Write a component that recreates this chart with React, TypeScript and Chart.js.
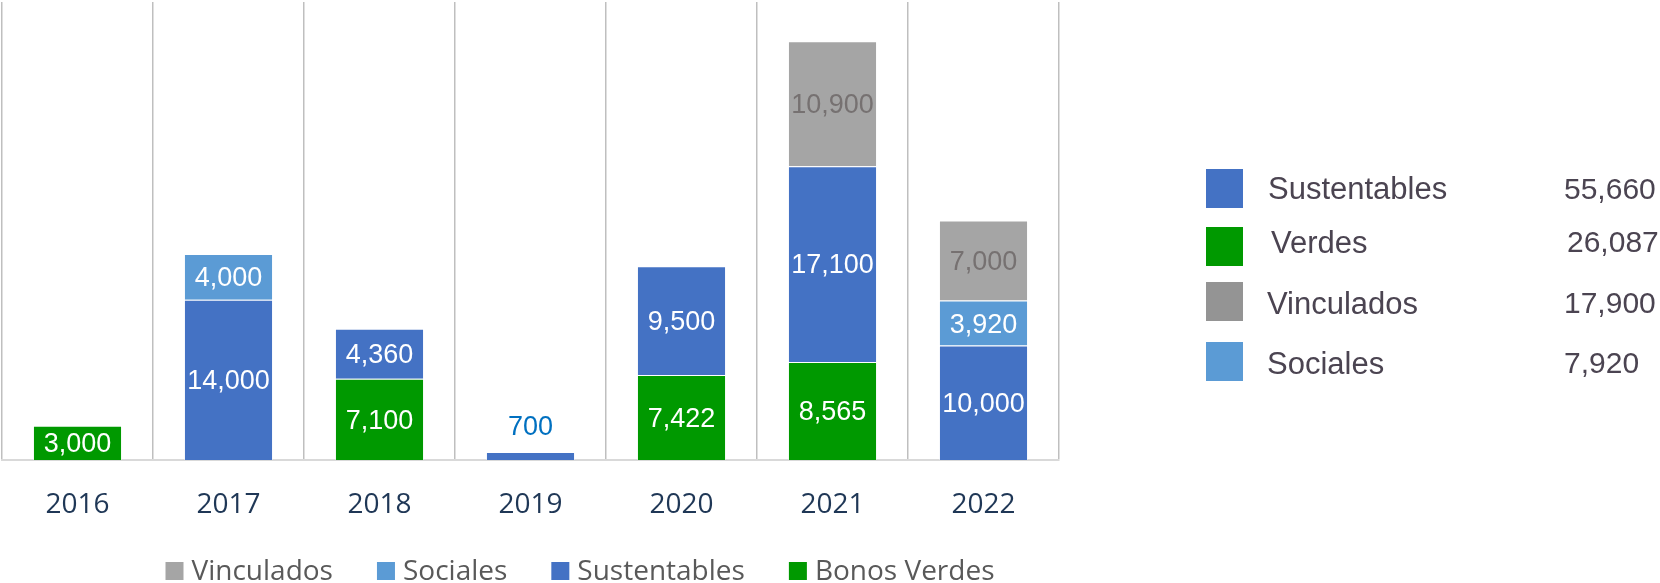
import React, { useEffect, useRef } from "react";
import { Chart, registerables } from "chart.js";

Chart.register(...registerables);

const categories = ["2016", "2017", "2018", "2019", "2020", "2021", "2022"];
const bonosVerdes = [3000, null, 7100, null, 7422, 8565, null];
const sustentables = [null, 14000, 4360, 700, 9500, 17100, 10000];
const sociales = [null, 4000, null, null, null, null, 3920];
const vinculados = [null, null, null, null, null, 10900, 7000];

const bottomLegendLabels = ["Vinculados", "Sociales", "Sustentables", "Bonos Verdes"];
const rightLegendLabels = ["Sustentables", "Verdes", "Vinculados", "Sociales"];

const GREEN = "#009900";
const BLUE = "#4472C4";
const LIGHTBLUE = "#5B9BD5";
const GRAY = "#A5A5A5";

const sum = (a: (number | null)[]) => a.reduce((s: number, v) => s + (v || 0), 0);

const labelPlugin = {
  id: "segLabels",
  afterDatasetsDraw(chart: any) {
    const ctx = chart.ctx;
    ctx.save();
    ctx.font = "27px 'Liberation Sans', Arial, sans-serif";
    ctx.textAlign = "center";
    ctx.textBaseline = "middle";
    chart.data.datasets.forEach((ds: any, i: number) => {
      const meta = chart.getDatasetMeta(i);
      meta.data.forEach((bar: any, j: number) => {
        const v = ds.data[j];
        if (!v) return;
        const { x, y, base } = bar.getProps(["x", "y", "base"], true);
        const h = Math.abs(base - y);
        const txt = v.toLocaleString("en-US");
        if (h < 30) {
          ctx.fillStyle = "#0070C0";
          ctx.fillText(txt, x, y - 24);
        } else {
          ctx.fillStyle = ds.labelColor;
          ctx.fillText(txt, x, (y + base) / 2 + 2);
        }
      });
    });
    ctx.restore();
  },
};

const legendPlugin = {
  id: "customLegends",
  afterDraw(chart: any) {
    const ctx = chart.ctx;
    ctx.save();
    // bottom legend
    const bColors = [GRAY, LIGHTBLUE, BLUE, GREEN];
    ctx.font = "28px 'Open Sans', sans-serif";
    const sq = 18;
    const gapText = 8;
    const gapItem = 44;
    const widths = bottomLegendLabels.map((t) => ctx.measureText(t).width);
    const total =
      widths.reduce((a, b) => a + b, 0) + bottomLegendLabels.length * (sq + gapText) + gapItem * (bottomLegendLabels.length - 1);
    let x = 580 - total / 2;
    ctx.textBaseline = "alphabetic";
    ctx.textAlign = "left";
    bottomLegendLabels.forEach((t, i) => {
      ctx.fillStyle = bColors[i];
      ctx.fillRect(x, 562, sq, sq);
      ctx.fillStyle = "#595959";
      ctx.fillText(t, x + sq + gapText, 580);
      x += sq + gapText + widths[i] + gapItem;
    });

    // right legend
    const rColors = [BLUE, GREEN, "#949494", LIGHTBLUE];
    const rTotals = [sum(sustentables), sum(bonosVerdes), sum(vinculados), sum(sociales)];
    const sqTops = [169, 227, 282, 342];
    const textX = [1268, 1271, 1267, 1267];
    const textY = [190.5, 244, 305, 365];
    const valX = [1564, 1567, 1564, 1564];
    ctx.textBaseline = "middle";
    rightLegendLabels.forEach((t, i) => {
      ctx.fillStyle = rColors[i];
      ctx.fillRect(1206, sqTops[i], 37, 39);
      ctx.fillStyle = "#4B4451";
      ctx.font = "31px 'Liberation Sans', Arial, sans-serif";
      ctx.fillText(t, textX[i], textY[i]);
      ctx.font = "30px 'Liberation Sans', Arial, sans-serif";
      ctx.fillText(rTotals[i].toLocaleString("en-US"), valX[i], textY[i]);
    });
    ctx.restore();
  },
};

export default function App() {
  const ref = useRef<HTMLCanvasElement | null>(null);
  useEffect(() => {
    if (!ref.current) return;
    const chart = new Chart(ref.current, {
      type: "bar",
      data: {
        labels: categories,
        datasets: [
          { label: "Bonos Verdes", data: bonosVerdes, backgroundColor: GREEN, labelColor: "#FFFFFF" } as any,
          { label: "Sustentables", data: sustentables, backgroundColor: BLUE, labelColor: "#FFFFFF" } as any,
          { label: "Sociales", data: sociales, backgroundColor: LIGHTBLUE, labelColor: "#FFFFFF" } as any,
          { label: "Vinculados", data: vinculados, backgroundColor: GRAY, labelColor: "#767171" } as any,
        ].map((d) => ({
          ...d,
          borderColor: "rgba(255,255,255,0.45)",
          borderWidth: 1,
          categoryPercentage: 1,
          barPercentage: 0.59,
        })),
      },
      options: {
        responsive: false,
        animation: false,
        layout: { padding: { left: 2, right: 601, top: 2, bottom: 0 } },
        plugins: { legend: { display: false }, tooltip: { enabled: false } },
        scales: {
          x: {
            stacked: true,
            grid: { color: "#BFBFBF", lineWidth: 1.5, drawTicks: false, offset: true },
            border: { display: true, color: "#D9D9D9", width: 2 },
            ticks: {
              color: "#1F3756",
              font: { family: "'Open Sans', sans-serif", size: 28 },
              padding: 28,
            },
            afterFit: (scale: any) => {
              scale.height = 123;
            },
          },
          y: { stacked: true, display: false, min: 0, max: 40000 },
        },
      },
      plugins: [labelPlugin, legendPlugin],
    });
    return () => chart.destroy();
  }, []);
  return (
    <div style={{ position: "absolute", left: 0, top: 0, width: 1660, height: 583, background: "#fff" }}>
      <canvas ref={ref} width={1660} height={583} />
    </div>
  );
}
